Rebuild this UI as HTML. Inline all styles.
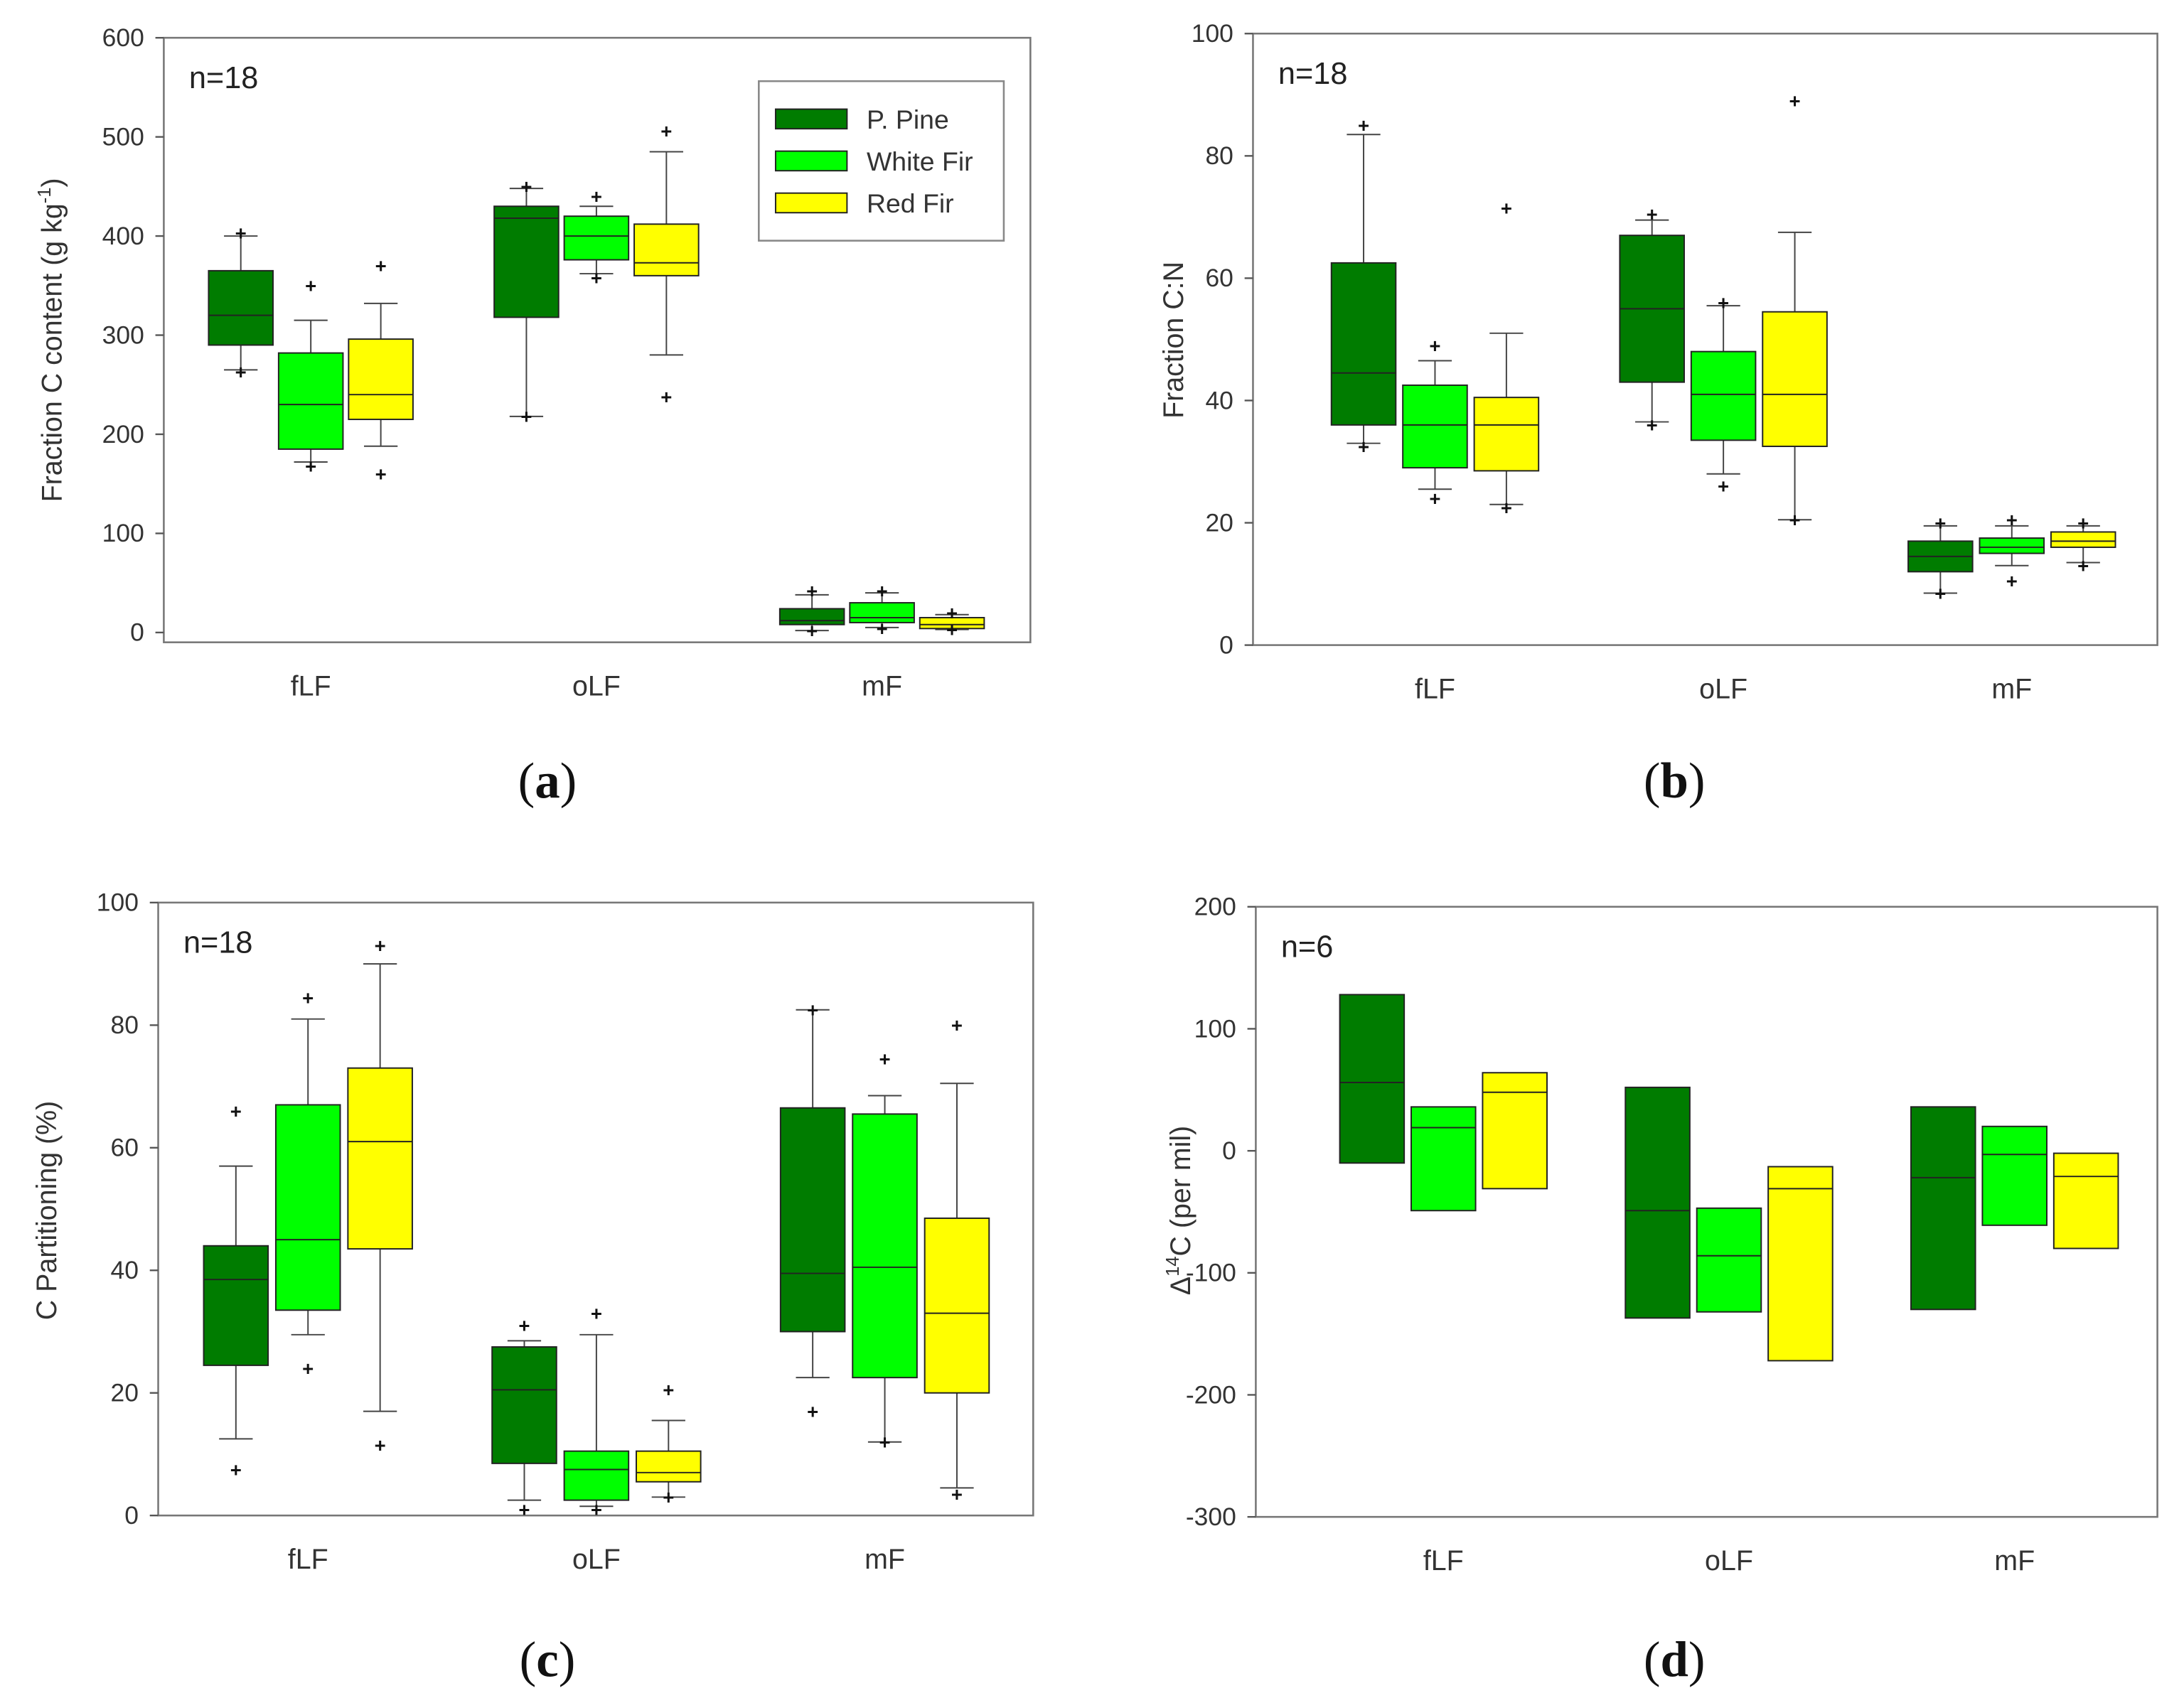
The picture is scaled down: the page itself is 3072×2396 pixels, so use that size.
<!DOCTYPE html>
<html><head><meta charset="utf-8">
<style>
html,body{margin:0;padding:0;background:#fff;}
svg{display:block;font-family:"Liberation Sans",sans-serif;}
</style></head>
<body>
<svg id="fig" width="3072" height="2396" viewBox="0 0 1560 1217" preserveAspectRatio="none" xmlns="http://www.w3.org/2000/svg"></svg>
<script>
// ---- data ----
const categories = ["fLF","oLF","mF"];
const species = ["P. Pine","White Fir","Red Fir"];
const colors = ["#007c00","#00ff00","#ffff00"];
// each box: [whiskerLo, q1, median, q3, whiskerHi, outlierHi, outlierLo]
const aValues = [
 [[265,290,320,365,400,403,263],[172,185,230,282,315,350,168],[188,215,240,296,332,370,160]],
 [[218,318,418,430,448,450,218],[362,376,400,420,430,440,358],[280,360,373,412,485,506,238]],
 [[2,8,12,24,38,42,2],[5,10,15,30,40,42,4],[3,4,8,15,18,20,3]]
];
const bValues = [
 [[33,36,44.5,62.5,83.5,85,32.5],[25.5,29,36,42.5,46.5,49,24],[23,28.5,36,40.5,51,71.5,22.5]],
 [[36.5,43,55,67,69.5,70.5,36],[28,33.5,41,48,55.5,56,26],[20.5,32.5,41,54.5,67.5,89,20.5]],
 [[8.5,12,14.5,17,19.5,20,8.5],[13,15,16,17.5,19.5,20.5,10.5],[13.5,16,17,18.5,19.5,20,13]]
];
const cValues = [
 [[12.5,24.5,38.5,44,57,66,7.5],[29.5,33.5,45,67,81,84.5,24],[17,43.5,61,73,90,93,11.5]],
 [[2.5,8.5,20.5,27.5,28.5,31,1],[1.5,2.5,7.5,10.5,29.5,33,1],[3,5.5,7,10.5,15.5,20.5,3]],
 [[22.5,30,39.5,66.5,82.5,82.5,17],[12,22.5,40.5,65.5,68.5,74.5,12],[4.5,20,33,48.5,70.5,80,3.5]]
];
// d: [low, median, high]
const dValues = [
 [[-10,56,128],[-49,19,36],[-31,48,64]],
 [[-137,-49,52],[-132,-86,-47],[-172,-31,-13]],
 [[-130,-22,36],[-61,-3,20],[-80,-21,-2]]
];
const aTicks = [0,100,200,300,400,500,600];
const bTicks = [0,20,40,60,80,100];
const cTicks = [0,20,40,60,80,100];
const dTicks = [-300,-200,-100,0,100,200];

const NS="http://www.w3.org/2000/svg";
const svg=document.getElementById('fig');
function mk(tag,attrs,parent){const e=document.createElementNS(NS,tag);for(const k in attrs)e.setAttribute(k,attrs[k]);(parent||svg).appendChild(e);return e;}

function panel(cfg){
  const g=mk('g',{});
  
  
  const y=v=>cfg.y0px+(v-cfg.v0)*(cfg.y1px-cfg.y0px)/(cfg.v1-cfg.v0);
  const fr=mk('rect',{x:cfg.x0,y:cfg.top,width:cfg.x1-cfg.x0,height:cfg.bot-cfg.top,fill:'none',stroke:'#777','stroke-width':1.3},g);
  
  
  cfg.ticks.forEach(t=>{
    const yy=y(t);
    mk('line',{x1:cfg.x0-6,x2:cfg.x0,y1:yy,y2:yy,stroke:'#555','stroke-width':1.2},g);
    const tx=mk('text',{x:cfg.x0-14,y:yy+6,'text-anchor':'end','font-size':18,fill:'#333'},g);
    tx.textContent=t;
    
    
  });
  const offs=[-cfg.off,0,cfg.off], w=46;
  categories.forEach((c,i)=>{
    const cx=cfg.cats[i];
    const ct=mk('text',{x:cx,y:cfg.bot+38,'text-anchor':'middle','font-size':20,fill:'#333'},g);
    ct.textContent=c;
    
    
    cfg.values[i].forEach((d,j)=>{
      const bx=cx+offs[j]-w/2, bg=mk('g',{},g);
      
      
      if(d.length===3){
        mk('rect',{x:bx,y:y(d[2]),width:w,height:y(d[0])-y(d[2]),fill:colors[j],stroke:'#222','stroke-width':1},bg);
        mk('line',{x1:bx,x2:bx+w,y1:y(d[1]),y2:y(d[1]),stroke:'#222','stroke-width':1},bg);
      } else {
        const mx=bx+w/2;
        mk('line',{x1:mx,x2:mx,y1:y(d[4]),y2:y(d[3]),stroke:'#444','stroke-width':1},bg);
        mk('line',{x1:mx,x2:mx,y1:y(d[1]),y2:y(d[0]),stroke:'#444','stroke-width':1},bg);
        mk('line',{x1:mx-12,x2:mx+12,y1:y(d[4]),y2:y(d[4]),stroke:'#444','stroke-width':1},bg);
        mk('line',{x1:mx-12,x2:mx+12,y1:y(d[0]),y2:y(d[0]),stroke:'#444','stroke-width':1},bg);
        mk('rect',{x:bx,y:y(d[3]),width:w,height:Math.max(1,y(d[1])-y(d[3])),fill:colors[j],stroke:'#222','stroke-width':1},bg);
        mk('line',{x1:bx,x2:bx+w,y1:y(d[2]),y2:y(d[2]),stroke:'#222','stroke-width':1},bg);
        [d[5],d[6]].forEach(o=>{
          const p=mk('text',{x:mx,y:y(o)+5,'text-anchor':'middle','font-size':14,'font-weight':'bold',fill:'#111'},bg);
          p.textContent='+';
        });
      }
    });
  });
  const n=mk('text',{x:cfg.x0+18,y:cfg.top+36,'font-size':22,fill:'#222'},g);
  n.textContent=cfg.n;
  
  
  const yl=mk('text',{x:cfg.ylx,y:cfg.yly,'text-anchor':'middle','font-size':20,fill:'#333',transform:`rotate(-90 ${cfg.ylx} ${cfg.yly})`},g);
  yl.innerHTML=cfg.ylabel;
  
  
  const pl=mk('text',{x:cfg.plx,y:cfg.ply,'text-anchor':'middle','font-size':36,'font-family':'Liberation Serif, serif',fill:'#111'},g);
  pl.innerHTML=cfg.plabel;
  
  
  return g;
}

panel({name:'panel-a',x0:117,x1:736,top:27,bot:459,y0px:452,y1px:27,v0:0,v1:600,ticks:aTicks,cats:[222,426,630],off:50,values:aValues,n:'n=18',
  ylx:44,yly:243,ylabel:'Fraction C content (g kg<tspan dy="-8" font-size="13">-1</tspan><tspan dy="8">)</tspan>',plx:391,ply:570,plabel:'(<tspan font-weight="bold">a</tspan>)'});
panel({name:'panel-b',x0:895,x1:1541,top:24,bot:461,y0px:461,y1px:24,v0:0,v1:100,ticks:bTicks,cats:[1025,1231,1437],off:51,values:bValues,n:'n=18',
  ylx:845,yly:243,ylabel:'Fraction C:N',plx:1196,ply:570,plabel:'(<tspan font-weight="bold">b</tspan>)'});
panel({name:'panel-c',x0:113,x1:738,top:645,bot:1083,y0px:1083,y1px:645,v0:0,v1:100,ticks:cTicks,cats:[220,426,632],off:51.5,values:cValues,n:'n=18',
  ylx:40,yly:865,ylabel:'C Partitioning (%)',plx:391,ply:1198,plabel:'(<tspan font-weight="bold">c</tspan>)'});
panel({name:'panel-d',x0:897,x1:1541,top:648,bot:1084,y0px:1084,y1px:648,v0:-300,v1:200,ticks:dTicks,cats:[1031,1235,1439],off:51,values:dValues,n:'n=6',
  ylx:850,yly:865,ylabel:'Δ<tspan dy="-8" font-size="13">14</tspan><tspan dy="8">C (per mil)</tspan>',plx:1196,ply:1198,plabel:'(<tspan font-weight="bold">d</tspan>)'});

// legend in panel a
const lg=mk('g',{});


mk('rect',{x:542,y:58,width:175,height:114,fill:'#fff',stroke:'#888','stroke-width':1.3},lg);
species.forEach((s,i)=>{
  const e=mk('g',{},lg);
  
  
  mk('rect',{x:554,y:78+i*30,width:51,height:14,fill:colors[i],stroke:'#222','stroke-width':1},e);
  const t=mk('text',{x:619,y:92+i*30,'font-size':19,fill:'#333'},e);
  t.textContent=s;
});
</script>
</body></html>
